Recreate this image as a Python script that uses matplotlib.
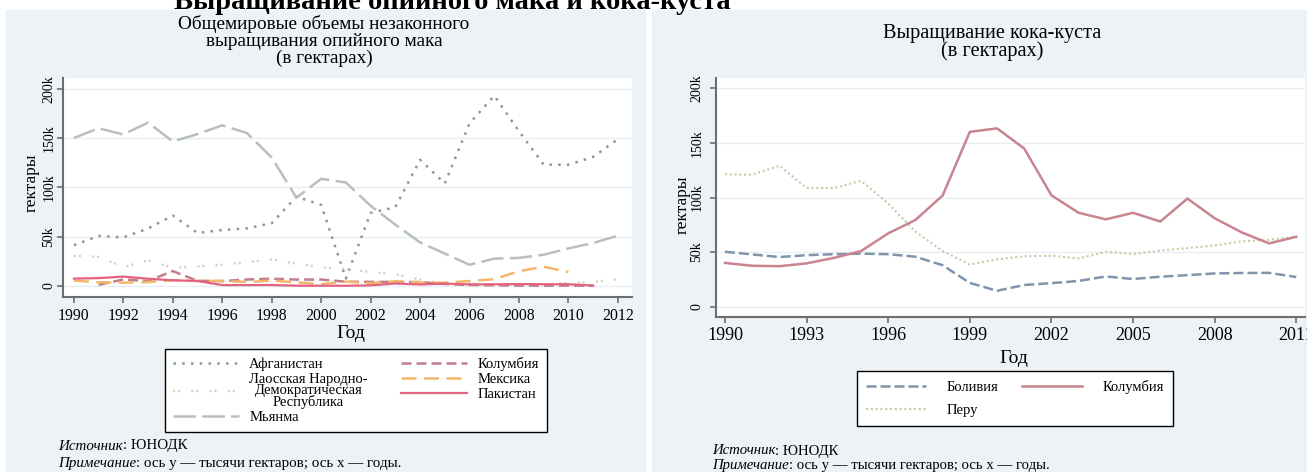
"""Opium poppy and coca bush cultivation, two Stata-like panels"""
import matplotlib
matplotlib.use("Agg")
from matplotlib import pyplot as plt
from matplotlib.patches import Rectangle
from matplotlib.ticker import FuncFormatter

plt.rcParams['font.family'] = ['Liberation Serif', 'DejaVu Serif']

W, H = 1307, 472

# opium poppy, hectares
years_opium = list(range(1990, 2013))
afghanistan = [41300, 50800, 49300, 58300, 71470, 53759, 56824, 58416, 63674,
               90583, 82171, 7606, 74100, 80000, 128000, 104000, 165000,
               193000, 157000, 123000, 123000, 131000, 149000]
laos = [30580, 29625, 19190, 26040, 18520, 19650, 21601, 24082, 26837, 22543,
        19052, 17255, 14000, 12000, 6600, 1800, 2500, 1500, 1600, 1900, 3000,
        4100, 6800]
myanmar = [150100, 160000, 153700, 165800, 146600, 154070, 163000, 155150,
           130300, 89500, 108700, 105000, 81400, 62200, 44200, 32800, 21500,
           27700, 28500, 31700, 38100, 43600, 51000]
years_colombia_opium = list(range(1991, 2012))
colombia_opium = [1160, 6578, 5008, 15091, 5226, 4916, 6584, 7350, 6500, 6500,
                  4300, 4153, 4026, 3950, 1950, 1023, 715, 394, 356, 341, 338]
years_mexico = list(range(1990, 2011))
mexico = [5450, 3765, 3310, 3960, 5795, 5050, 5100, 4000, 5500, 3600, 1900,
          4400, 2700, 4800, 3500, 3300, 5000, 6900, 15000, 19500, 14000]
years_pakistan = list(range(1990, 2012))
pakistan = [7488, 7962, 9493, 7329, 5759, 5091, 873, 874, 950, 284, 260, 213,
            622, 2500, 1500, 2438, 1545, 1701, 1909, 1779, 1721, 362]

# coca bush, hectares
years_coca = list(range(1990, 2012))
bolivia = [50300, 47900, 45500, 47200, 48100, 48600, 48100, 45800, 38000,
           21800, 14600, 19900, 21600, 23600, 27700, 25400, 27500, 28900,
           30500, 30900, 31000, 27200]
colombia_coca = [40100, 37500, 37100, 39700, 44700, 50900, 67200, 79400,
                 101800, 160100, 163300, 144800, 102000, 86000, 80000, 86000,
                 78000, 99000, 81000, 68000, 58000, 64000]
peru = [121300, 120800, 129100, 108800, 108600, 115300, 94400, 68800, 51000,
        38700, 43400, 46200, 46700, 44200, 50300, 48200, 51400, 53700, 56100,
        59900, 61200, 64400]

opium_ticks = list(range(1990, 2013, 2))
coca_ticks = list(range(1990, 2012, 3))
y_ticks = [0, 50000, 100000, 150000, 200000]

PANEL = '#ecf2f5'
AXIS = '#6e6e6e'


def fx(x):
    return x / W


def fy(y):
    return 1 - y / H


def kfmt(v, pos):
    return '0' if v == 0 else '%dk' % round(v / 1000)


def style_axes(ax, xticks, xsize, ysize, ypad, xpad):
    for side in ('top', 'right'):
        ax.spines[side].set_visible(False)
    for side in ('left', 'bottom'):
        ax.spines[side].set_color(AXIS)
        ax.spines[side].set_linewidth(1.5)
    ax.set_xticks(xticks)
    ax.set_yticks(y_ticks)
    ax.yaxis.set_major_formatter(FuncFormatter(kfmt))
    ax.tick_params(direction='out', length=4, width=1.2, color=AXIS)
    ax.tick_params(axis='x', labelsize=xsize, pad=xpad)
    ax.tick_params(axis='y', labelsize=ysize, pad=ypad, labelrotation=90)
    for lab in ax.get_yticklabels():
        lab.set_va('center')
    ax.grid(axis='y', color='#e9eef1', lw=1)
    ax.set_axisbelow(True)


def add_notes(ax, x, y1, y2, size):
    t = fig.text(fx(x), fy(y1), 'Источник', style='italic', size=size,
                 va='center')
    ax.annotate(': ЮНОДК', xy=(1, 0.5), xycoords=t, va='center', size=size,
                annotation_clip=False)
    t = fig.text(fx(x), fy(y2), 'Примечание', style='italic', size=size,
                 va='center')
    ax.annotate(': ось у — тысячи гектаров; ось х — годы.', xy=(1, 0.5),
                xycoords=t, va='center', size=size, annotation_clip=False)


fig = plt.figure(figsize=(W / 100, H / 100), dpi=100)

fig.patches.append(Rectangle((fx(6), 0), (645 - 6) / W, fy(10),
                             transform=fig.transFigure, color=PANEL,
                             zorder=-2))
fig.patches.append(Rectangle((fx(652), 0), (W - 652) / W, fy(10),
                             transform=fig.transFigure, color=PANEL,
                             zorder=-2))

fig.text(fx(452), fy(9), 'Выращивание опийного мака и кока-куста',
         ha='center', va='baseline', size=20.5, weight='bold')

# ---- left panel: opium poppy
ax1 = fig.add_axes([fx(63), fy(297), (632 - 63) / W, (297 - 78) / H])
ax1.plot(years_opium, afghanistan, color='#8d959e', lw=1.8,
         ls=(0, (1, 2.5)), label='Афганистан')
ax1.plot(years_opium, laos, color='#d0d6b9', lw=1.6,
         ls=(0, (1, 1.2, 1, 5)),
         label='Лаосская Народно-\nДемократическая\nРеспублика')
ax1.plot(years_opium, myanmar, color='#b8c0bd', lw=1.8,
         ls=(0, (9, 2.5)), label='Мьянма')
ax1.plot(years_colombia_opium, colombia_opium, color='#c27e8a', lw=1.8,
         ls=(0, (4, 2)), label='Колумбия')
ax1.plot(years_mexico, mexico, color='#f3b76c', lw=1.8,
         ls=(0, (6, 3)), label='Мексика')
ax1.plot(years_pakistan, pakistan, color='#e3627f', lw=1.6,
         label='Пакистан')
ax1.set_xlim(1989.56, 2012.57)
ax1.set_ylim(-11200, 211000)
style_axes(ax1, opium_ticks, 11.3, 10, 1.5, 4.2)
ax1.set_xlabel('Год', size=14)
ax1.xaxis.set_label_coords(0.506, -0.13)
ax1.set_ylabel('гектары', size=12.4)
ax1.yaxis.set_label_coords(-0.041, 0.52)

leg1 = ax1.legend(loc='upper center', bbox_to_anchor=(fx(356), fy(349)),
                  bbox_transform=fig.transFigure, ncol=2, fontsize=10.5,
                  frameon=True, fancybox=False, edgecolor='black',
                  framealpha=1, handlelength=4.5, handletextpad=0.7,
                  columnspacing=2.3, labelspacing=0.12, borderpad=0.55,
                  borderaxespad=0)
leg1.get_frame().set_linewidth(1)
for t in leg1.get_texts():
    t.set_linespacing(0.82)
    t.set_multialignment('center')

fig.text(fx(324), fy(41), 'Общемировые объемы незаконного\n'
         'выращивания опийного мака\n(в гектарах)', ha='center',
         va='center', size=13.9, linespacing=0.98)

add_notes(ax1, 58, 446, 463, 10.8)

# ---- right panel: coca bush
ax2 = fig.add_axes([fx(716), fy(317), (1305 - 716) / W, (317 - 78) / H])
ax2.plot(years_coca, bolivia, color='#7f95ad', lw=1.8,
         ls=(0, (4, 1.6)), label='Боливия')
ax2.plot(years_coca, peru, color='#c6cba9', lw=1.5,
         ls=(0, (1, 1.3)), label='Перу')
ax2.plot(years_coca, colombia_coca, color='#c9848f', lw=1.8,
         label='Колумбия')
ax2.set_xlim(1989.67, 2011.32)
ax2.set_ylim(-9400, 209400)
style_axes(ax2, coca_ticks, 13, 10, 5, 3)
ax2.set_xlabel('Год', size=14)
ax2.xaxis.set_label_coords(0.506, -0.138)
ax2.set_ylabel('гектары', size=12.4)
ax2.yaxis.set_label_coords(-0.043, 0.469)

leg2 = ax2.legend(loc='upper center', bbox_to_anchor=(fx(1015), fy(371)),
                  bbox_transform=fig.transFigure, ncol=2, fontsize=10.5,
                  frameon=True, fancybox=False, edgecolor='black',
                  framealpha=1, handlelength=4.1, handletextpad=1.45,
                  columnspacing=1.6, labelspacing=0.7, borderpad=0.6,
                  borderaxespad=0)
leg2.get_frame().set_linewidth(1)

fig.text(fx(992), fy(42.5), 'Выращивание кока-куста\n(в гектарах)',
         ha='center', va='center', size=14.6, linespacing=0.95)

add_notes(ax2, 712, 451, 465, 10.6)

fig.savefig('out.png', dpi=100)
